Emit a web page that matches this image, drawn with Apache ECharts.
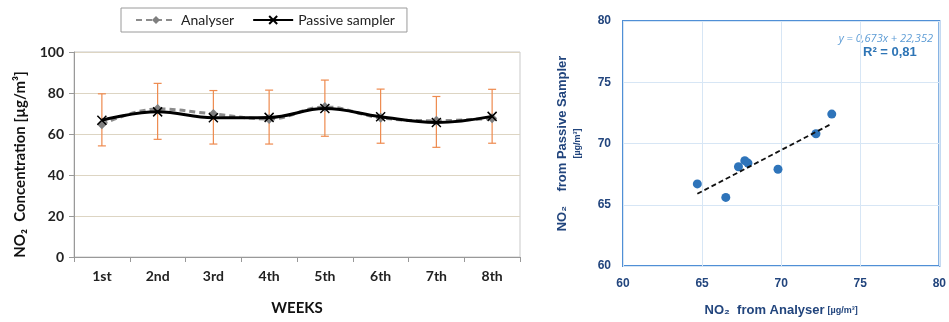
<!DOCTYPE html>
<html>
<head>
<meta charset="utf-8">
<script src="https://cdn.jsdelivr.net/npm/echarts@6/dist/echarts.min.js"></script>
<style>
  html, body { margin: 0; padding: 0; background: #fff; }
  #chart { width: 949px; height: 322px; }
</style>
</head>
<body>
<div id="chart"></div>
<script>
// Left panel: weekly NO2 concentrations
const weeks = ['1st', '2nd', '3rd', '4th', '5th', '6th', '7th', '8th'];
const analyser = [64.7, 72.2, 69.8, 67.3, 73.2, 67.9, 66.5, 67.7];
const passive = [66.7, 70.8, 67.9, 68.1, 72.4, 68.4, 65.6, 68.6];
const errLow = [54.2, 57.4, 55.1, 55.1, 58.9, 55.5, 53.5, 55.5];
const errHigh = [79.6, 84.7, 81.2, 81.4, 86.3, 81.9, 78.3, 81.8];

// Right panel: scatter analyser vs passive sampler + linear trend
const slope = 0.673;
const intercept = 22.352;
const trendRange = [64.7, 73.2];

const chart = echarts.init(document.getElementById('chart'));

const scatterData = analyser.map((a, i) => [a, passive[i]]);
const trendData = trendRange.map(x => [x, slope * x + intercept]);
const errData = weeks.map((w, i) => [i, errLow[i], errHigh[i]]);

const navy = '#22457D';
const arial = '"Liberation Sans", Arial, sans-serif';
const xMark = 'path://M0,0L10,10M10,0L0,10';

chart.setOption({
  animation: false,
  textStyle: { fontFamily: 'Lato, "Open Sans", sans-serif' },
  legend: {
    left: 121,
    top: 8,
    height: 27,
    padding: [5, 12, 5, 14],
    itemGap: 18,
    itemWidth: 40,
    itemHeight: 10,
    borderColor: '#9A9A9A',
    borderWidth: 1,
    textStyle: { fontSize: 14, color: '#222', fontFamily: 'Lato, sans-serif' },
    data: ['Analyser', 'Passive sampler'],
  },
  grid: [
    { left: 74, top: 52, width: 446, height: 205, show: true, borderColor: '#C9C9C9', borderWidth: 1 },
    { left: 623, top: 21, width: 317, height: 246, show: true, borderColor: '#4F8FD6', borderWidth: 2 },
  ],
  xAxis: [
    {
      gridIndex: 0,
      type: 'category',
      data: weeks,
      boundaryGap: true,
      name: 'WEEKS',
      nameLocation: 'middle',
      nameGap: 44,
      nameTextStyle: { fontSize: 15, fontWeight: 'bold', color: '#111' },
      axisLine: { lineStyle: { color: '#999' } },
      axisTick: { show: true, length: 5, lineStyle: { color: '#999' } },
      axisLabel: { fontSize: 14, fontWeight: 'bold', color: '#222', margin: 12 },
      splitLine: { show: false },
    },
    {
      gridIndex: 1,
      type: 'value',
      min: 60,
      max: 80,
      interval: 5,
      name: '{b|NO₂  from Analyser} {s|[µg/m³]}',
      nameLocation: 'middle',
      nameGap: 38,
      nameTextStyle: {
        rich: {
          b: { fontSize: 13, fontWeight: 'bold', color: navy, fontFamily: arial },
          s: { fontSize: 9, fontWeight: 'bold', color: navy, fontFamily: arial },
        },
      },
      axisLine: { show: false },
      axisTick: { show: false },
      axisLabel: { fontSize: 12, fontWeight: 'bold', color: navy, margin: 12, fontFamily: arial },
      splitLine: { lineStyle: { color: '#D7E6F5' } },
    },
  ],
  yAxis: [
    {
      gridIndex: 0,
      type: 'value',
      min: 0,
      max: 100,
      interval: 20,
      name: 'NO₂  Concentration [µg/m³]',
      nameLocation: 'middle',
      nameGap: 46,
      nameTextStyle: { fontSize: 15, fontWeight: 'bold', color: '#111', padding: [0, 20, 0, 0] },
      axisLine: { show: true, lineStyle: { color: '#999' } },
      axisTick: { show: true, length: 5, lineStyle: { color: '#999' } },
      axisLabel: { fontSize: 14, fontWeight: 'bold', color: '#222', margin: 10 },
      splitLine: { lineStyle: { color: '#DDD5C3' } },
    },
    {
      gridIndex: 1,
      type: 'value',
      min: 60,
      max: 80,
      interval: 5,
      name: '{b|NO₂    from Passive Sampler}\n{s|[µg/m³]}',
      nameLocation: 'middle',
      nameGap: 38,
      nameTextStyle: {
        lineHeight: 15,
        rich: {
          b: { fontSize: 13, fontWeight: 'bold', color: navy, fontFamily: arial, lineHeight: 15 },
          s: { fontSize: 9, fontWeight: 'bold', color: navy, fontFamily: arial, lineHeight: 15 },
        },
      },
      axisLine: { show: false },
      axisTick: { show: false },
      axisLabel: { fontSize: 12, fontWeight: 'bold', color: navy, margin: 12, fontFamily: arial },
      splitLine: { lineStyle: { color: '#D7E6F5' } },
    },
  ],
  graphic: [
    {
      type: 'text',
      right: 16,
      top: 33,
      style: { text: 'y = 0,673x + 22,352', fontSize: 11, fontStyle: 'italic', fill: '#5B9BD5', fontFamily: '"Open Sans", sans-serif' },
    },
    {
      type: 'text',
      left: 863,
      top: 46,
      style: { text: 'R² = 0,81', fontSize: 13, fontWeight: 'bold', fill: '#2E75B6', fontFamily: arial },
    },
  ],
  series: [
    {
      type: 'custom',
      xAxisIndex: 0,
      yAxisIndex: 0,
      z: 1,
      silent: true,
      data: errData,
      renderItem: (params, api) => {
        const x = api.value(0);
        const top = api.coord([x, api.value(2)]);
        const bot = api.coord([x, api.value(1)]);
        const cap = 4;
        const style = { stroke: '#EE8A4E', lineWidth: 1.2 };
        return {
          type: 'group',
          children: [
            { type: 'line', shape: { x1: top[0], y1: top[1], x2: bot[0], y2: bot[1] }, style },
            { type: 'line', shape: { x1: top[0] - cap, y1: top[1], x2: top[0] + cap, y2: top[1] }, style },
            { type: 'line', shape: { x1: bot[0] - cap, y1: bot[1], x2: bot[0] + cap, y2: bot[1] }, style },
          ],
        };
      },
    },
    {
      name: 'Analyser',
      type: 'line',
      xAxisIndex: 0,
      yAxisIndex: 0,
      data: analyser,
      smooth: 0.4,
      z: 2,
      symbol: 'diamond',
      symbolSize: 10,
      itemStyle: { color: '#7F7F7F' },
      lineStyle: { color: '#8C8C8C', width: 3, type: [6, 4] },
    },
    {
      name: 'Passive sampler',
      type: 'line',
      xAxisIndex: 0,
      yAxisIndex: 0,
      data: passive,
      smooth: 0.4,
      z: 3,
      symbol: xMark,
      symbolSize: 9,
      itemStyle: { color: '#000', borderColor: '#000', borderWidth: 1.5 },
      lineStyle: { color: '#000', width: 3 },
    },
    {
      type: 'scatter',
      xAxisIndex: 1,
      yAxisIndex: 1,
      data: scatterData,
      symbolSize: 9,
      itemStyle: { color: '#2E74BA', opacity: 1 },
      z: 3,
    },
    {
      type: 'line',
      xAxisIndex: 1,
      yAxisIndex: 1,
      data: trendData,
      symbol: 'none',
      z: 4,
      lineStyle: { color: '#111', width: 1.8, type: [5, 3] },
    },
  ],
});
</script>
</body>
</html>
